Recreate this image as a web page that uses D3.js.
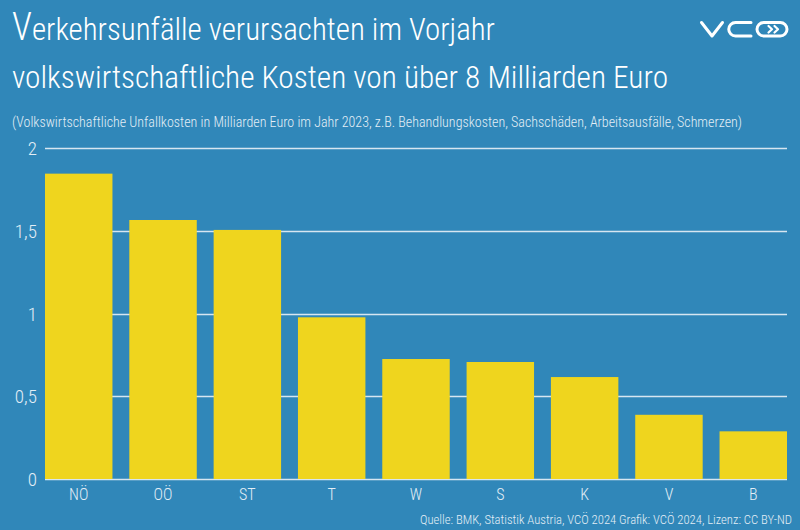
<!DOCTYPE html>
<html>
<head>
<meta charset="utf-8">
<script src="https://cdn.jsdelivr.net/npm/d3@7"></script>
<style>
  html, body { margin: 0; padding: 0; background: #3087b9; }
  svg text { font-family: 'Liberation Sans Narrow', 'Roboto Condensed', 'DejaVu Sans Condensed', sans-serif; font-weight: 300; }
</style>
</head>
<body>
<div id="chart"></div>
<script>
const WIDTH = 800
const HEIGHT = 530

// data
const categories = ['NÖ', 'OÖ', 'ST', 'T', 'W', 'S', 'K', 'V', 'B']
const values = [1.845, 1.565, 1.505, 0.977, 0.725, 0.707, 0.616, 0.388, 0.288]
const y_ticks = [0, 0.5, 1, 1.5, 2]
const y_tick_labels = ['0', '0,5', '1', '1,5', '2']

const TITLE_1 = 'erkehrsunfälle verursachten im Vorjahr'
const TITLE_2 = 'volkswirtschaftliche Kosten von über 8 Milliarden Euro'
const SUBTITLE = '(Volkswirtschaftliche Unfallkosten in Milliarden Euro im Jahr 2023, z.B. Behandlungskosten, Sachschäden, Arbeitsausfälle, Schmerzen)'
const FOOTER = 'Quelle: BMK, Statistik Austria, VCÖ 2024 Grafik: VCÖ 2024, Lizenz: CC BY-ND'

const MARGINS = { top: 148, right: 13, bottom: 51, left: 45 }

const BG = '#3087b9'
const BAR = '#efd51e'
const GRID = '#d6e6f1'
const TEXT = '#ffffff'
const TEXT_SOFT = '#e3eef6'

let svg = d3.select('#chart')
  .append('svg')
    .attr('width', WIDTH)
    .attr('height', HEIGHT)

svg.append('rect')
  .attr('width', WIDTH)
  .attr('height', HEIGHT)
  .attr('fill', BG)

let x = d3.scaleBand()
  .domain(categories)
  .range([MARGINS.left, WIDTH - MARGINS.right])
  .paddingInner(0.2)
  .paddingOuter(0)

let y = d3.scaleLinear()
  .domain([0, 2])
  .range([HEIGHT - MARGINS.bottom, MARGINS.top])

// titles  [ condensed to the reference widths ]

let squeeze = (sel, len) => sel
  .attr('textLength', len)
  .attr('lengthAdjust', 'spacingAndGlyphs')

let title = svg.append('text')
  .attr('x', 12)
  .attr('y', 40)
  .attr('fill', TEXT)
  .style('font-size', '32px')
  .call(squeeze, 483)
title.append('tspan')
  .style('font-size', '38px')
  .text('V')
title.append('tspan')
  .text(TITLE_1)

svg.append('text')
  .attr('x', 12)
  .attr('y', 88)
  .attr('fill', TEXT)
  .style('font-size', '32px')
  .call(squeeze, 656)
  .text(TITLE_2)

svg.append('text')
  .attr('x', 12)
  .attr('y', 127)
  .attr('fill', TEXT_SOFT)
  .style('font-size', '15px')
  .call(squeeze, 730)
  .text(SUBTITLE)

// logo

let logo = svg.append('g')
  .attr('fill', 'none')
  .attr('stroke', TEXT)
  .attr('stroke-width', 3)
  .attr('stroke-linecap', 'round')
  .attr('stroke-linejoin', 'round')

logo.append('path').attr('d', 'M701.5,22.5 L712,36 L722.5,22.5')
logo.append('path').attr('d', 'M751,22.5 H735.5 A6.75,6.75 0 0 0 735.5,36 H751')
logo.append('rect')
  .attr('x', 757).attr('y', 22.5)
  .attr('width', 30).attr('height', 13.5)
  .attr('rx', 6.75)
logo.append('path')
  .attr('stroke-width', 2.2)
  .attr('d', 'M768.5,26 L772,29.25 L768.5,32.5 M774.5,26 L778,29.25 L774.5,32.5')

// grid

svg.append('g')
  .selectAll('line')
  .data(y_ticks)
  .enter().append('line')
    .attr('x1', MARGINS.left)
    .attr('x2', WIDTH - MARGINS.right)
    .attr('y1', (d) => Math.round(y(d)) + 0.5)
    .attr('y2', (d) => Math.round(y(d)) + 0.5)
    .attr('stroke', GRID)
    .attr('stroke-width', 1.5)

// bars

svg.append('g')
  .selectAll('rect')
  .data(values)
  .enter().append('rect')
    .attr('x', (d, i) => x(categories[i]))
    .attr('y', (d) => y(d))
    .attr('width', x.bandwidth())
    .attr('height', (d) => y(0) - y(d))
    .attr('fill', BAR)

// axes labels

svg.append('g')
  .selectAll('text')
  .data(y_ticks)
  .enter().append('text')
    .attr('x', 37)
    .attr('y', (d) => y(d))
    .attr('dy', '0.38em')
    .attr('text-anchor', 'end')
    .attr('fill', TEXT_SOFT)
    .style('font-size', '19px')
    .text((d, i) => y_tick_labels[i])

svg.append('g')
  .selectAll('text')
  .data(categories)
  .enter().append('text')
    .attr('x', (d) => x(d) + x.bandwidth() / 2)
    .attr('y', 500)
    .attr('text-anchor', 'middle')
    .attr('fill', TEXT_SOFT)
    .style('font-size', '16px')
    .text((d) => d)

svg.append('text')
  .attr('x', 420)
  .attr('y', 524)
  .attr('fill', TEXT_SOFT)
  .style('font-size', '12.5px')
  .call(squeeze, 372)
  .text(FOOTER)
</script>
</body>
</html>
